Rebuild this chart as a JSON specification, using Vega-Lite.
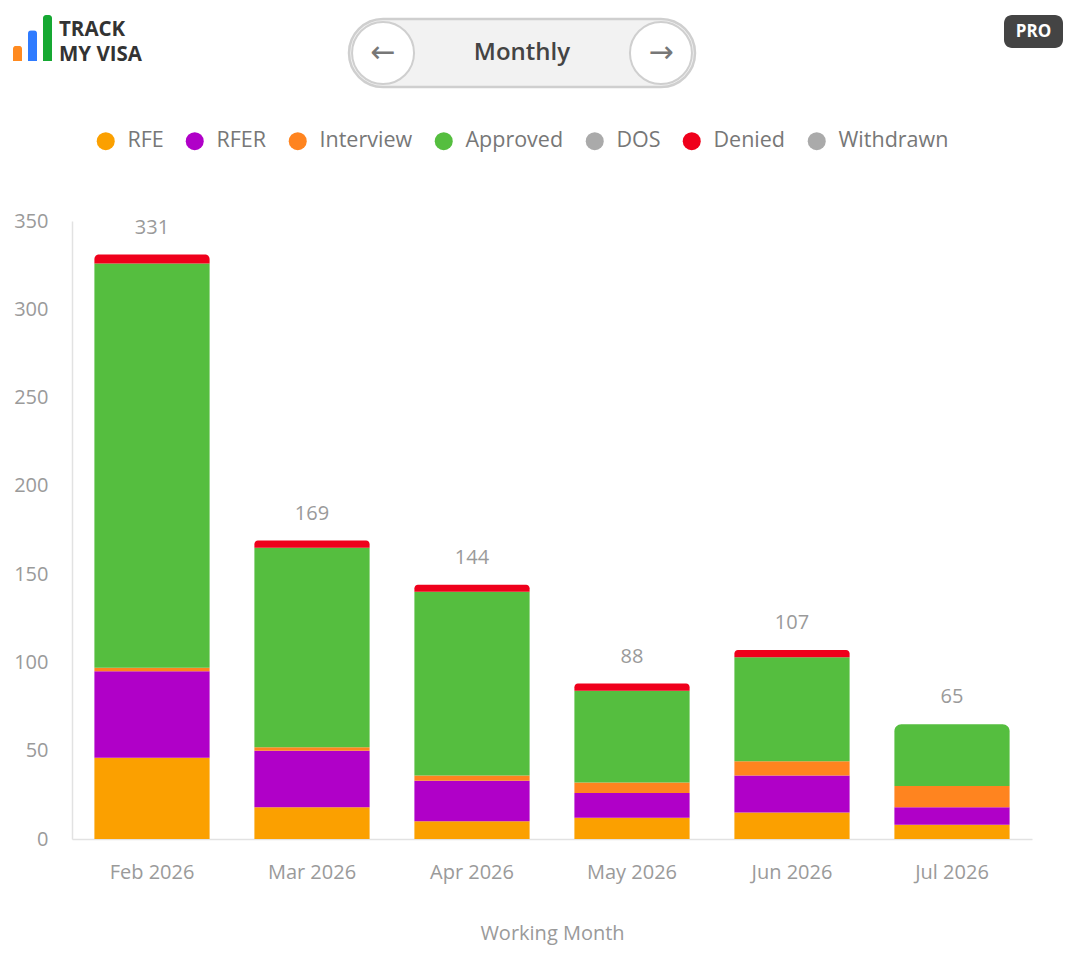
{
  "$schema": "https://vega.github.io/schema/vega-lite/v6.json",
  "background": "white",
  "padding": {"left": 13, "top": 15, "right": 5, "bottom": 5},
  "config": {
    "font": "Open Sans",
    "view": {"stroke": null}
  },
  "resolve": {"scale": {"x": "independent", "y": "independent", "color": "independent"}, "legend": {"color": "independent"}},
  "spacing": 41,
  "vconcat": [
    {
      "bounds": "flush",
      "spacing": 238,
      "resolve": {"scale": {"x": "independent", "y": "independent", "color": "independent"}},
      "hconcat": [
        {
          "width": 39,
          "height": 46,
          "data": {"values": [{"k": "1", "v": 1}, {"k": "2", "v": 2}, {"k": "3", "v": 3}]},
          "layer": [
            {
              "mark": {"type": "bar", "cornerRadiusTopLeft": 3, "cornerRadiusTopRight": 3},
              "encoding": {
                "x": {"field": "k", "type": "nominal", "axis": null, "scale": {"paddingInner": 0.4, "paddingOuter": 0, "range": [-59, -20]}},
                "y": {"field": "v", "type": "quantitative", "axis": null, "scale": {"domain": [0, 3]}},
                "color": {"field": "k", "type": "nominal", "legend": null, "scale": {"domain": ["1", "2", "3"], "range": ["#FF8A1F", "#2F7BFF", "#16A832"]}}
              }
            },
            {
              "data": {"values": [{"name": "TRACK"}]},
              "mark": {"type": "text", "align": "left", "baseline": "middle", "dx": 7, "fontSize": 20.5, "fontWeight": "bold", "color": "#333333"},
              "encoding": {
                "x": {"datum": "3", "type": "nominal", "bandPosition": 1},
                "y": {"datum": 2.04, "type": "quantitative"},
                "text": {"field": "name"}
              }
            },
            {
              "data": {"values": [{"name": "MY VISA"}]},
              "mark": {"type": "text", "align": "left", "baseline": "middle", "dx": 7, "fontSize": 20.5, "fontWeight": "bold", "color": "#333333"},
              "encoding": {
                "x": {"datum": "3", "type": "nominal", "bandPosition": 1},
                "y": {"datum": 0.36, "type": "quantitative"},
                "text": {"field": "name"}
              }
            }
          ]
        },
        {
          "width": 346,
          "height": 72,
          "data": {"values": [{"b": "prev", "t": "←"}, {"b": "label", "t": "Monthly"}, {"b": "next", "t": "→"}]},
          "resolve": {"scale": {"x": "independent"}},
          "layer": [
            {
              "data": {"values": [{"p": "p"}]},
              "mark": {"type": "rect", "fill": "#F2F2F2", "stroke": "#CFCFCF", "strokeWidth": 2.5, "cornerRadius": 34},
              "encoding": {
                "x": {"field": "p", "type": "nominal", "axis": null, "scale": {"paddingInner": 0, "paddingOuter": 0}},
                "y": {"field": "p", "type": "nominal", "axis": null, "scale": {"paddingInner": 0, "paddingOuter": 0.0294, "align": 1}}
              }
            },
            {
              "resolve": {"scale": {"x": "shared"}},
              "layer": [
                {
                  "transform": [{"filter": "datum.b !== 'label'"}],
                  "mark": {"type": "point", "shape": "circle", "filled": true, "fill": "white", "stroke": "#CFCFCF", "strokeWidth": 2, "size": 3844, "opacity": 1},
                  "encoding": {
                    "x": {"field": "b", "type": "nominal", "axis": null, "scale": {"type": "point", "domain": ["prev", "label", "next"], "padding": 0.245}},
                    "y": {"datum": "p", "type": "nominal"}
                  }
                },
                {
                  "transform": [{"filter": "datum.b !== 'label'"}],
                  "mark": {"type": "text", "fontSize": 30, "color": "#777777", "font": "DejaVu Sans", "baseline": "middle"},
                  "encoding": {
                    "x": {"field": "b", "type": "nominal", "axis": null},
                    "y": {"datum": "p", "type": "nominal"},
                    "text": {"field": "t"}
                  }
                },
                {
                  "transform": [{"filter": "datum.b === 'label'"}],
                  "mark": {"type": "text", "fontSize": 24, "fontWeight": 600, "color": "#444444", "baseline": "middle"},
                  "encoding": {
                    "x": {"field": "b", "type": "nominal", "axis": null},
                    "y": {"datum": "p", "type": "nominal"},
                    "text": {"field": "t"}
                  }
                }
              ]
            }
          ]
        },
        {
          "width": 130,
          "height": 33,
          "data": {"values": [{"p": "PRO"}]},
          "layer": [
            {
              "mark": {"type": "rect", "fill": "#444444", "cornerRadius": 8},
              "encoding": {
                "x": {"field": "p", "type": "nominal", "axis": null, "scale": {"paddingInner": 0, "paddingOuter": 0.6017, "align": 1}},
                "y": {"field": "p", "type": "nominal", "axis": null, "scale": {"paddingInner": 0, "paddingOuter": 0}}
              }
            },
            {
              "mark": {"type": "text", "fontSize": 17, "fontWeight": "bold", "color": "white", "baseline": "middle"},
              "encoding": {
                "x": {"field": "p", "type": "nominal", "axis": null},
                "y": {"field": "p", "type": "nominal", "axis": null},
                "text": {"field": "p"}
              }
            }
          ]
        }
      ]
    },
    {
      "width": 960,
      "height": 618,
      "data": {
        "values": [
          {"month": "Feb 2026", "status": "RFE", "count": 46},
          {"month": "Feb 2026", "status": "RFER", "count": 49},
          {"month": "Feb 2026", "status": "Interview", "count": 2},
          {"month": "Feb 2026", "status": "Approved", "count": 229},
          {"month": "Feb 2026", "status": "Denied", "count": 5},
          {"month": "Mar 2026", "status": "RFE", "count": 18},
          {"month": "Mar 2026", "status": "RFER", "count": 32},
          {"month": "Mar 2026", "status": "Interview", "count": 2},
          {"month": "Mar 2026", "status": "Approved", "count": 113},
          {"month": "Mar 2026", "status": "Denied", "count": 4},
          {"month": "Apr 2026", "status": "RFE", "count": 10},
          {"month": "Apr 2026", "status": "RFER", "count": 23},
          {"month": "Apr 2026", "status": "Interview", "count": 3},
          {"month": "Apr 2026", "status": "Approved", "count": 104},
          {"month": "Apr 2026", "status": "Denied", "count": 4},
          {"month": "May 2026", "status": "RFE", "count": 12},
          {"month": "May 2026", "status": "RFER", "count": 14},
          {"month": "May 2026", "status": "Interview", "count": 6},
          {"month": "May 2026", "status": "Approved", "count": 52},
          {"month": "May 2026", "status": "Denied", "count": 4},
          {"month": "Jun 2026", "status": "RFE", "count": 15},
          {"month": "Jun 2026", "status": "RFER", "count": 21},
          {"month": "Jun 2026", "status": "Interview", "count": 8},
          {"month": "Jun 2026", "status": "Approved", "count": 59},
          {"month": "Jun 2026", "status": "Denied", "count": 4},
          {"month": "Jul 2026", "status": "RFE", "count": 8},
          {"month": "Jul 2026", "status": "RFER", "count": 10},
          {"month": "Jul 2026", "status": "Interview", "count": 12},
          {"month": "Jul 2026", "status": "Approved", "count": 35}
        ]
      },
      "transform": [
        {"calculate": "indexof(['RFE','RFER','Interview','Approved','DOS','Denied','Withdrawn'], datum.status)", "as": "ord"},
        {"stack": "count", "groupby": ["month"], "sort": [{"field": "ord", "order": "ascending"}], "as": ["y0", "y1"]},
        {"joinaggregate": [{"op": "max", "field": "y1", "as": "total"}], "groupby": ["month"]}
      ],
      "encoding": {
        "x": {
          "field": "month",
          "type": "nominal",
          "sort": ["Feb 2026", "Mar 2026", "Apr 2026", "May 2026", "Jun 2026", "Jul 2026"],
          "scale": {"paddingInner": 0.28, "paddingOuter": 0.14},
          "axis": {
            "title": "Working Month",
            "titleFontSize": 20,
            "titleFontWeight": "normal",
            "titleColor": "#9A9A9A",
            "titlePadding": 41,
            "labelAngle": 0,
            "labelFontSize": 20,
            "labelColor": "#9A9A9A",
            "labelPadding": 23,
            "ticks": false,
            "domainColor": "#E2E2E2",
            "domainWidth": 1.5
          }
        }
      },
      "layer": [
        {
          "transform": [{"filter": "datum.y1 < datum.total"}],
          "mark": {"type": "bar"},
          "encoding": {
            "y": {
              "field": "y1",
              "type": "quantitative",
              "scale": {"domain": [0, 350], "nice": false},
              "axis": {
                "title": null,
                "values": [0, 50, 100, 150, 200, 250, 300, 350],
                "labelFontSize": 20,
                "labelColor": "#9A9A9A",
                "labelPadding": 24,
                "ticks": false,
                "grid": false,
                "domainColor": "#E2E2E2",
                "domainWidth": 1.5
              }
            },
            "y2": {"field": "y0"},
            "color": {
              "field": "status",
              "type": "nominal",
              "scale": {
                "domain": ["RFE", "RFER", "Interview", "Approved", "DOS", "Denied", "Withdrawn"],
                "range": ["#FBA000", "#B000C8", "#FF841F", "#55BE3F", "#AAAAAA", "#EF001B", "#AAAAAA"]
              },
              "legend": {
                "title": null,
                "orient": "none",
                "direction": "horizontal",
                "legendX": 23,
                "legendY": -91,
                "symbolType": "circle",
                "symbolSize": 324,
                "symbolStrokeWidth": 0,
                "labelFontSize": 21.5,
                "labelColor": "#777777",
                "labelOffset": 11,
                "columnPadding": 20
              }
            }
          }
        },
        {
          "transform": [{"filter": "datum.y1 === datum.total"}],
          "mark": {"type": "bar", "cornerRadiusTopLeft": 7, "cornerRadiusTopRight": 7},
          "encoding": {
            "y": {"field": "y1", "type": "quantitative"},
            "y2": {"field": "y0"},
            "color": {"field": "status", "type": "nominal"}
          }
        },
        {
          "transform": [{"filter": "datum.y1 === datum.total"}],
          "mark": {"type": "text", "dy": -27, "fontSize": 20, "color": "#9A9A9A", "baseline": "middle"},
          "encoding": {
            "y": {"field": "total", "type": "quantitative"},
            "text": {"field": "total", "type": "quantitative"}
          }
        }
      ]
    }
  ]
}
